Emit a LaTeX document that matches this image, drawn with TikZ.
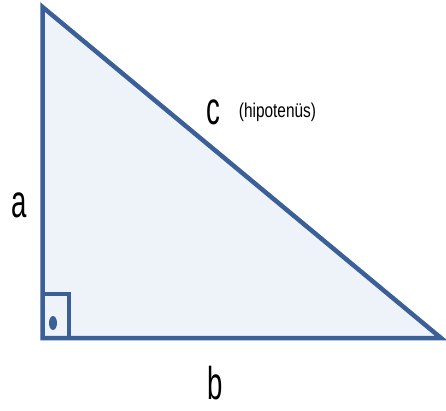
\documentclass[tikz,border=0pt]{standalone}
\usepackage{fontspec}
\setmainfont{Liberation Sans}
\definecolor{edgeblue}{HTML}{3B5F97}
\definecolor{fillblue}{HTML}{EEF2F9}
\begin{document}
\begin{tikzpicture}[x=1pt,y=-1pt,
  edge/.style={draw=edgeblue,line width=4.5pt},
  biglabel/.style={inner sep=0pt,font=\fontsize{46}{46}\selectfont},
  smalllabel/.style={inner sep=0pt,font=\fontsize{20}{20}\selectfont}]
\useasboundingbox (0,0) rectangle (446,410);
\begin{scope}
\clip (0,0) rectangle (446,410);
\coordinate (top) at (42.5,7);
\coordinate (bl) at (42.5,338);
\coordinate (br) at (441,338);
\filldraw[edge,fill=fillblue] (top) -- (bl) -- (br) -- cycle;
\draw[draw=edgeblue,line width=4pt] (42.5,294) -- (69,294) -- (69,338);
\fill[edgeblue] (53,323) ellipse [x radius=4, y radius=7];
\end{scope}
\node[biglabel] (a) at (19.5,205) {\scalebox{0.6}[1]{a}};
\node[biglabel] (b) at (215.5,383) {\scalebox{0.6}[1]{b}};
\node[biglabel] (c) at (213,112.5) {\scalebox{0.6}[1]{c}};
\node[smalllabel] (h) at (277.5,112) {\scalebox{0.77}[1]{(hipotenüs)}};
\end{tikzpicture}
\end{document}
